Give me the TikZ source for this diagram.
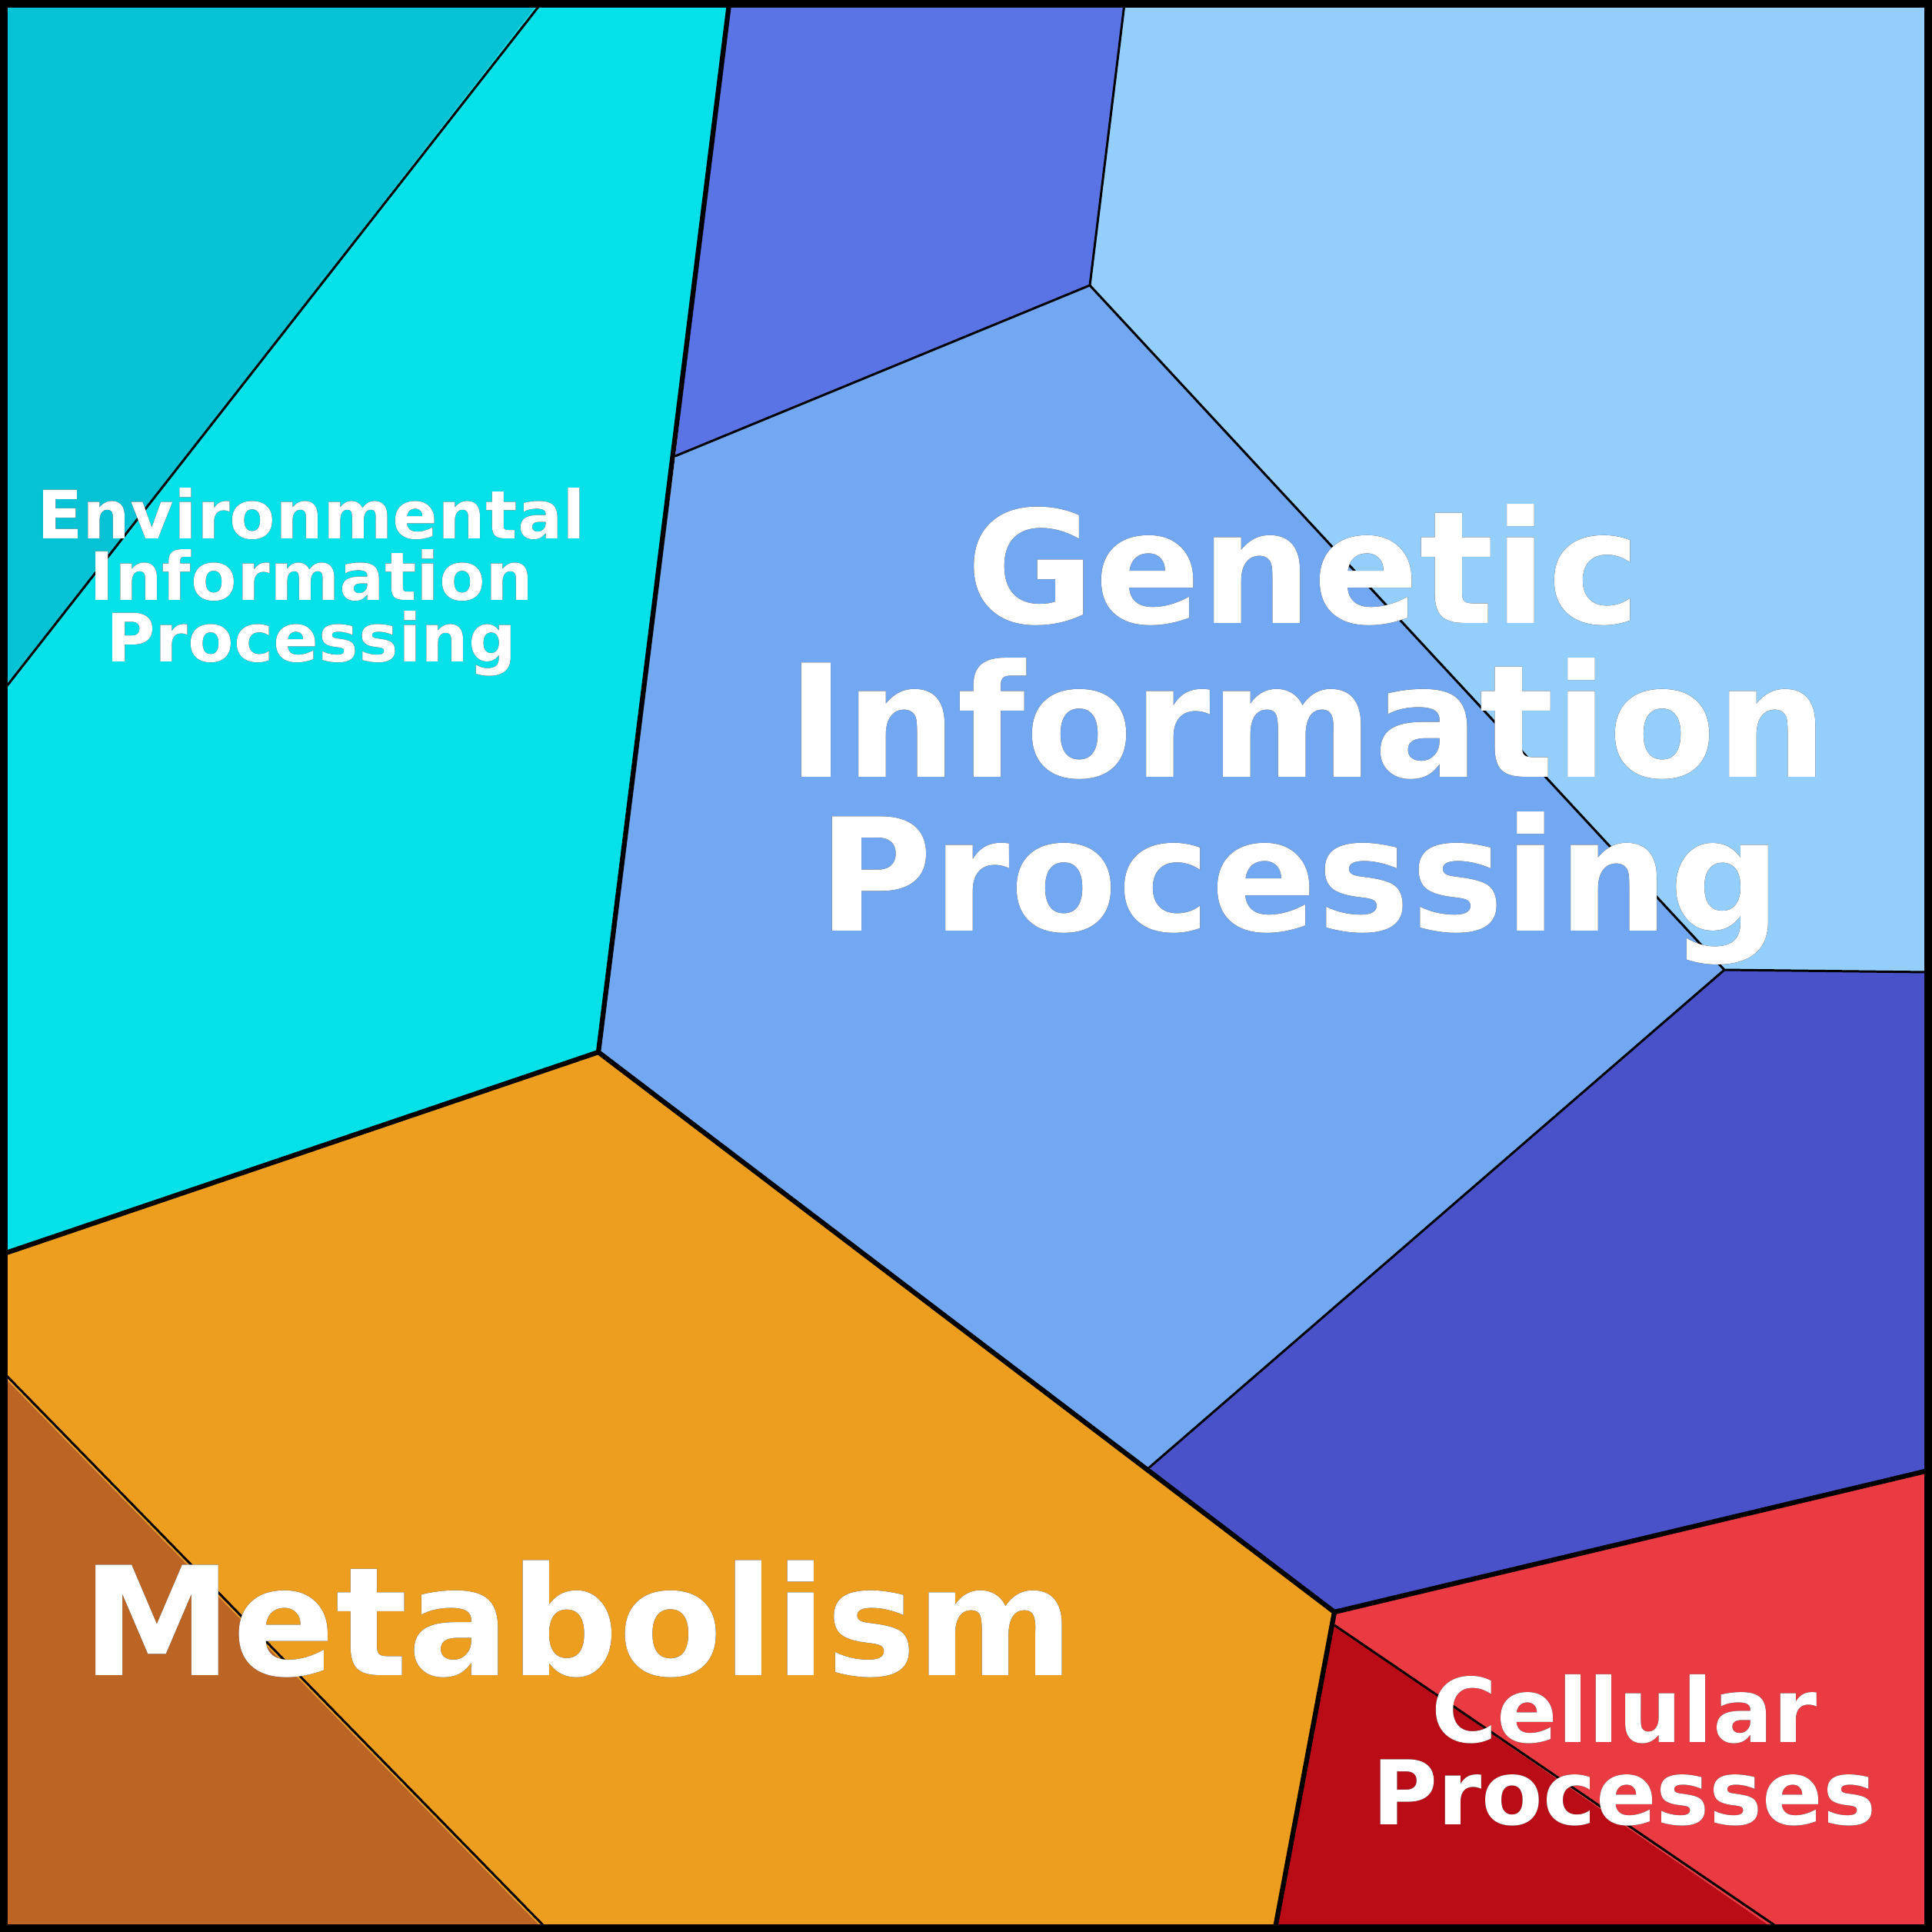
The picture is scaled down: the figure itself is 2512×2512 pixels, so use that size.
\documentclass[tikz,border=0pt]{standalone}
\usepackage{fontspec}
\setmainfont{DejaVu Sans}
\usepackage[outline]{contour}
\contourlength{0.6pt}
\definecolor{cdk}{HTML}{05C3D4}
\definecolor{ccy}{HTML}{05E1E9}
\definecolor{cbt}{HTML}{5B74E5}
\definecolor{clb}{HTML}{94CEFC}
\definecolor{cmb}{HTML}{72A8F2}
\definecolor{cin}{HTML}{4A52C9}
\definecolor{cor}{HTML}{EE9E1F}
\definecolor{cbr}{HTML}{BB6424}
\definecolor{cdr}{HTML}{BA0C16}
\definecolor{crd}{HTML}{EA3A42}
\begin{document}
\begin{tikzpicture}[x=0.01cm,y=-0.01cm,
  thin line/.style={line width=0.85pt,line join=round},
  thick line/.style={line width=1.8pt,line join=round},
  lbl/.style={text=white,font=\bfseries,align=center,anchor=base}]
\useasboundingbox (0,0) rectangle (2512,2512);
\fill[cdk] (0,0)--(703,0)--(0,906)--cycle;
\fill[ccy] (703,0)--(948,0)--(778,1368)--(0,1633)--(0,906)--cycle;
\fill[cbt] (948,0)--(1462,0)--(1417,371)--(878,593)--cycle;
\fill[clb] (1462,0)--(2512,0)--(2512,1264)--(2242,1261)--(1417,371)--cycle;
\fill[cmb] (878,593)--(1417,371)--(2242,1261)--(1492,1910)--(778,1368)--cycle;
\fill[cin] (2242,1261)--(2512,1264)--(2512,1912)--(1735,2096)--(1492,1910)--cycle;
\fill[cor] (778,1368)--(1735,2096)--(1658,2512)--(710,2512)--(0,1785)--(0,1633)--cycle;
\fill[cbr] (0,1785)--(710,2512)--(0,2512)--cycle;
\fill[cdr] (1735,2096)--(1735,2113)--(2313,2512)--(1658,2512)--cycle;
\fill[crd] (1735,2096)--(2512,1912)--(2512,2512)--(2313,2512)--(1735,2113)--cycle;
% thin borders
\draw[thin line] (703,5)--(5,897);
\draw[thin line] (1462,5)--(1417,371)--(878,593);
\draw[thin line] (1417,371)--(2242,1261)--(2507,1264);
\draw[thin line] (2242,1261)--(1492,1910);
\draw[thin line] (1735,2113)--(2313,2507);
\draw[thin line] (5,1785)--(710,2507);
% thick borders
\draw[thick line] (948,5)--(778,1368)--(5,1630);
\draw[thick line] (778,1368)--(1735,2096)--(2507,1912);
\draw[thick line] (1735,2096)--(1658,2507);
\draw[line width=2.9pt] (5,5) rectangle (2507,2507);
% labels
\node[lbl,font=\bfseries\fontsize{24.7}{22.7}\selectfont] (env) at (405,700) {\contour{black}{Environmental}};
\node[lbl,font=\bfseries\fontsize{24.7}{22.7}\selectfont] (env2) at (405,780) {\contour{black}{Information}};
\node[lbl,font=\bfseries\fontsize{24.7}{22.7}\selectfont] (env3) at (405,860) {\contour{black}{Processing}};
\node[lbl,font=\bfseries\fontsize{58}{57}\selectfont] (gen1) at (1695,810) {\contour{black}{Genetic}};
\node[lbl,font=\bfseries\fontsize{58}{57}\selectfont] (gen2) at (1700,1010) {\contour{black}{Information}};
\node[lbl,font=\bfseries\fontsize{58}{57}\selectfont] (gen3) at (1690,1210) {\contour{black}{Processing}};
\node[lbl,font=\bfseries\fontsize{56}{56}\selectfont] (met) at (752,2178) {\contour{black}{Metabolism}};
\node[lbl,font=\bfseries\fontsize{33}{30}\selectfont] (cel1) at (2112,2265) {\contour{black}{Cellular}};
\node[lbl,font=\bfseries\fontsize{33}{30}\selectfont] (cel2) at (2112,2372) {\contour{black}{Processes}};
\end{tikzpicture}
\end{document}
